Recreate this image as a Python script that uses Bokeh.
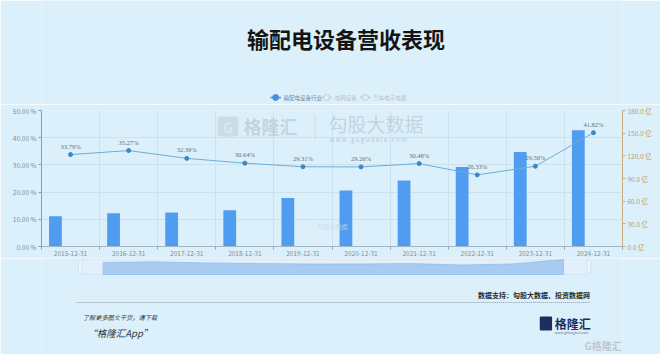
from bokeh.plotting import figure
from bokeh.layouts import column
from bokeh.models import (Range1d, LinearAxis, FixedTicker, PrintfTickFormatter, Label,
                          BoxAnnotation, ColumnDataSource, LabelSet)
from bokeh.transform import dodge
from bokeh.embed import file_html
from bokeh.resources import INLINE

# ---------------- data ----------------
categories = ["2015-12-31", "2016-12-31", "2017-12-31", "2018-12-31", "2019-12-31",
              "2020-12-31", "2021-12-31", "2022-12-31", "2023-12-31", "2024-12-31"]
revenue_yi = [40.2, 44.1, 45.0, 48.0, 64.1, 74.0, 87.5, 105.1, 125.1, 154.0]
other_yi = [0.6, 0.3, 0.3, 0.8, 0.3, 0.3, 0.3, 0.3, 0.3, 0.6]
margin_pct = [33.79, 35.27, 32.39, 30.64, 29.31, 29.26, 30.48, 26.33, 29.50, 41.82]
series_names = ["输配电设备行业", "电网设备", "汽车电子电器"]
left_ticks = [0, 10, 20, 30, 40, 50]
right_ticks = [0, 30, 60, 90, 120, 150, 180]

title_text = "输配电设备营收表现"
source_text = "数据支持：勾股大数据、投资数据网"

BG = "#dcf0fb"
FONT = "Noto Sans CJK SC"
W = 660


def panel(y0, y1):
    """Helper figure whose data coordinates equal picture pixels (x: 0..660, y: y0..y1 downward)."""
    f = figure(width=W, height=y1 - y0, output_backend="svg", toolbar_location=None,
               x_range=Range1d(0, W), y_range=Range1d(y1, y0),
               min_border=0, min_border_left=0, min_border_right=0,
               min_border_top=0, min_border_bottom=0)
    f.axis.visible = False
    f.grid.visible = False
    f.outline_line_color = None
    f.background_fill_color = BG
    f.border_fill_color = BG
    return f


def T(f, X, Y, text, size="8px", color="#333333", align="left", style="normal", alpha=1.0):
    f.add_layout(Label(x=X, y=Y, text=text, text_font=FONT, text_font_size=size,
                       text_color=color, text_align=align, text_baseline="middle",
                       text_font_style=style, text_alpha=alpha))


def Bx(f, X0, X1, Y0, Y1, fill, line=None, alpha=1.0, dash="solid", radius=0, lw=1, level="overlay"):
    f.add_layout(BoxAnnotation(left=X0, right=X1, top=Y0, bottom=Y1,
                               fill_color=fill, fill_alpha=alpha if fill else 0,
                               line_color=line, line_dash=dash, line_width=lw,
                               border_radius=radius, level=level))


# ================= top: title + legend (picture rows 0..104) =================
top = panel(0, 104)
T(top, 346, 37, title_text, "22px", "#141414", "center", "bold")
leg_x = [260, 318, 362]
leg_col = ["#4a8fd6", "#c2cbd3", "#c2cbd3"]
txt_col = ["#6a88a4", "#b8c2cb", "#b8c2cb"]
for i, name in enumerate(series_names):
    x0 = leg_x[i]
    top.segment(x0=[x0], y0=[97], x1=[x0 + 12], y1=[97], line_color=leg_col[i], line_width=1.5)
    top.scatter([x0 + 6], [97], size=6, fill_color=leg_col[i] if i == 0 else BG,
                line_color=leg_col[i], line_width=1)
    T(top, x0 + 15, 97, name, "5.5px", txt_col[i], "left")

# ================= main chart (picture rows 104..258) =================
idx = list(range(len(categories)))
src = ColumnDataSource(dict(
    idx=idx, rev=revenue_yi, other=other_yi, margin=margin_pct,
    mlab=["%.2f%%" % m for m in margin_pct],
))

p = figure(width=W, height=154, output_backend="svg", toolbar_location=None,
           x_range=Range1d(-0.5, len(categories) - 0.5), y_range=Range1d(0, 50),
           min_border_left=41, min_border_right=38, min_border_top=6, min_border_bottom=9)
p.background_fill_color = BG
p.border_fill_color = BG
p.outline_line_color = None
p.extra_y_ranges = {"rev": Range1d(0, 180)}

xt = FixedTicker(ticks=idx, minor_ticks=[i - 0.5 for i in range(len(categories) + 1)])
p.xaxis.ticker = xt
p.xaxis.major_label_overrides = {i: c for i, c in enumerate(categories)}
p.xaxis.major_tick_line_color = None
p.xaxis.major_tick_out = 0
p.xaxis.major_tick_in = 0
p.xaxis.minor_tick_line_color = "#8fa3b3"
p.xaxis.minor_tick_out = 3
p.xaxis.minor_tick_in = 0
p.xaxis.axis_line_color = "#a3b5c1"
p.xaxis.major_label_text_font_size = "6.5px"
p.xaxis.major_label_text_color = "#7f8f9c"
p.xaxis.major_label_text_font = FONT
p.xaxis.major_label_standoff = 1
p.xgrid.ticker = xt
p.xgrid.grid_line_color = None
p.xgrid.minor_grid_line_color = "#cae1ef"

p.yaxis.ticker = FixedTicker(ticks=left_ticks)
p.yaxis.formatter = PrintfTickFormatter(format="%.2f %%")
p.yaxis.axis_line_color = "#78a6b8"
p.yaxis.major_tick_line_color = "#78a6b8"
p.yaxis.major_tick_out = 3
p.yaxis.major_tick_in = 0
p.yaxis.minor_tick_line_color = None
p.yaxis.major_label_text_font_size = "6.5px"
p.yaxis.major_label_text_color = "#6f93ad"
p.yaxis.major_label_text_font = FONT
p.yaxis.major_label_standoff = 2
p.ygrid.grid_line_color = "#cae1ef"

ra = LinearAxis(y_range_name="rev", ticker=FixedTicker(ticks=right_ticks),
                formatter=PrintfTickFormatter(format="%.1f 亿"))
ra.axis_line_color = "#c9ad84"
ra.major_tick_line_color = "#c9ad84"
ra.major_tick_out = 3
ra.major_tick_in = 0
ra.minor_tick_line_color = None
ra.major_label_text_font_size = "6.5px"
ra.major_label_text_color = "#c39a5e"
ra.major_label_text_font = FONT
ra.major_label_standoff = 2
p.add_layout(ra, "right")


def L(X, Y, text, size="8px", color="#333333", align="left", style="normal", alpha=1.0):
    # screen position inside the main frame (frame spans picture x 41..622, y 110..249)
    p.add_layout(Label(x=X - 41, y=249 - Y, x_units="screen", y_units="screen", text=text,
                       text_font=FONT, text_font_size=size, text_color=color, text_align=align,
                       text_baseline="middle", text_font_style=style, text_alpha=alpha))


def B(X0, X1, Y0, Y1, fill, alpha=1.0, radius=0):
    p.add_layout(BoxAnnotation(left=X0 - 41, right=X1 - 41, top=249 - Y0, bottom=249 - Y1,
                               left_units="screen", right_units="screen",
                               top_units="screen", bottom_units="screen",
                               fill_color=fill, fill_alpha=alpha, line_color=None,
                               border_radius=radius, level="underlay"))


# watermark inside the plot area
B(217, 238, 119, 139, "#b9c8d2", alpha=0.5, radius=2)
L(227.5, 129, "G", "14px", "#dcebf3", "center", "bold", 0.9)
L(243, 128, "格隆汇", "18px", "#aebdc8", "left", "bold", 0.55)
B(314, 315, 117, 142, "#b9c8d2", alpha=0.5)
L(328, 126, "勾股大数据", "19px", "#aebdc8", "left", "normal", 0.55)
L(329, 142, "w w w . g u g u d a t a . c o m", "6px", "#9fb0bd", "left", "normal", 0.65)
L(332, 229, "勾股大数据", "6px", "#c9d6de", "center", "normal", 0.8)

p.vbar(x=dodge("idx", -0.26, range=p.x_range), top="rev", width=0.22, source=src,
       y_range_name="rev", fill_color="#4f9cf0", line_color=None)
p.vbar(x=dodge("idx", 0.0, range=p.x_range), top="other", width=0.22, source=src,
       y_range_name="rev", fill_color="#b7bfa6", line_color=None)

p.line("idx", "margin", source=src, line_color="#6aaed6", line_width=1)
p.scatter("idx", "margin", source=src, size=4, fill_color="#3d86c2", line_color="#3d86c2")
p.add_layout(LabelSet(x="idx", y="margin", text="mlab", source=src, y_offset=5,
                      text_align="center", text_baseline="bottom", text_font=FONT,
                      text_font_size="6.5px", text_color="#5f7282"))

# ================= bottom: slider + footer (picture rows 258..354) =================
bot = panel(258, 354)
# slider with a data shadow of the margin series
bot.extra_x_ranges = {"cat": Range1d(-0.5 - 41 / 58.1, len(categories) - 0.5 + 38 / 58.1)}
bot.extra_y_ranges = {"shadow": Range1d(-80 * max(margin_pct) / 15, 16 * max(margin_pct) / 15)}
Bx(bot, 42, 624, 258.5, 274, "#e2effc", "#aecbe8", radius=5, level="underlay")
sh_x = [idx[0]] + idx + [idx[-1]]
sh_y = [0] + margin_pct + [0]
bot.patch(sh_x, sh_y, x_range_name="cat", y_range_name="shadow",
          fill_color="#a3c8f0", fill_alpha=0.95, line_color="#93bfee", line_width=0.8)
Bx(bot, 42, 46, 259, 273, "#eef5fd", "#a8c5e2", radius=2)
Bx(bot, 620, 624, 259, 273, "#eef5fd", "#a8c5e2", radius=2)

T(bot, 623, 294, source_text, "7px", "#2a2a2a", "right", "bold")
bot.segment(x0=[40], y0=[302], x1=[624], y1=[302], line_color="#8f9aa3", line_dash="1 1", line_width=1)
T(bot, 47, 317, "了解更多图文干货，请下载", "6.2px", "#3a3a3a", "left", "italic")
T(bot, 52, 332, "“格隆汇App”", "9.5px", "#333333", "left", "italic")
Bx(bot, 566, 580, 316, 330, "#1f2d5c", radius=1)
T(bot, 573, 323.5, "G", "11px", "#ffffff", "center", "bold")
T(bot, 583, 322.5, "格隆汇", "12px", "#1f2d5c", "left", "bold")
T(bot, 583, 332, "www.gelonghui.com", "3.5px", "#6b7280", "left")
T(bot, 638, 345, "G格隆汇", "10px", "#b3bcc4", "center", "bold", 0.8)

layout = column(top, p, bot, spacing=0)
html = file_html(layout, INLINE)
html = html.replace("<body>", '<body style="margin:0;background:%s">' % BG, 1)
open("out.html", "w").write(html)
